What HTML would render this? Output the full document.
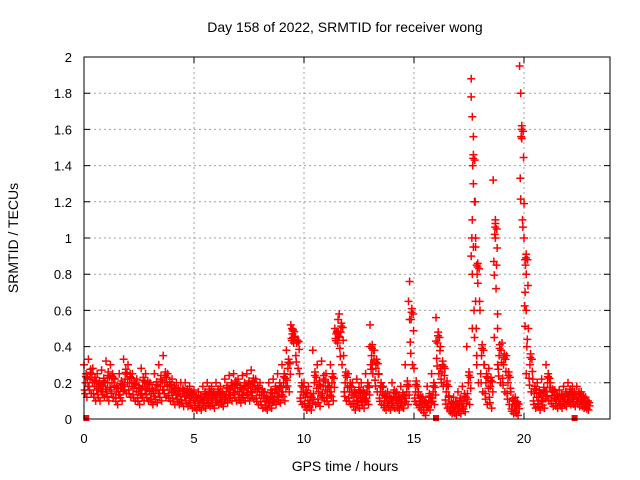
<!DOCTYPE html>
<html><head><meta charset="utf-8"><style>
body{margin:0;background:#fff}
svg{display:block;font-family:"Liberation Sans",sans-serif}
</style></head><body>
<svg id="c" width="640" height="480">
<text x="345" y="32" font-size="14" text-anchor="middle">Day 158 of 2022, SRMTID for receiver wong</text>
<text x="0" y="0" font-size="14" text-anchor="middle" transform="translate(18,238) rotate(-90)">SRMTID / TECUs</text>
<text x="345" y="471" font-size="14" text-anchor="middle">GPS time / hours</text>
<g id="grid"></g><g id="marks"></g>
<rect x="84" y="57" width="526" height="362" fill="none" stroke="#000" stroke-width="1"/>
</svg>
<script>
const xTicks=[0,5,10,15,20];
const yTicks=[0,0.2,0.4,0.6,0.8,1,1.2,1.4,1.6,1.8,2];
const yTickLabels=["0","0.2","0.4","0.6","0.8","1","1.2","1.4","1.6","1.8","2"];
const hiVals=[0.3,0.33,0.28,0.25,0.27,0.32,0.3,0.22,0.25,0.33,0.3,0.25,0.22,0.28,0.25,0.2,0.25,0.3,0.35,0.25,0.22,0.2,0.2,0.2,0.18,0.16,0.15,0.18,0.2,0.18,0.2,0.18,0.22,0.24,0.25,0.22,0.24,0.25,0.27,0.22,0.2,0.15,0.2,0.22,0.25,0.3,0.38,0.52,0.45,0.25,0.2,0.18,0.38,0.3,0.32,0.25,0.3,0.5,0.58,0.35,0.25,0.2,0.22,0.2,0.25,0.52,0.38,0.25,0.18,0.15,0.2,0.15,0.18,0.3,0.76,0.28,0.15,0.12,0.18,0.25,0.56,0.4,0.28,0.12,0.12,0.15,0.18,0.4,1.88,1.0,0.6,0.3,0.28,1.32,0.5,0.42,0.35,0.15,0.12,1.95,1.19,0.5,0.22,0.2,0.22,0.3,0.2,0.16,0.16,0.18,0.2,0.18,0.18,0.15,0.12];
const midVals=[0.2,0.22,0.18,0.17,0.18,0.2,0.2,0.15,0.17,0.22,0.2,0.17,0.15,0.18,0.17,0.14,0.16,0.18,0.2,0.16,0.15,0.14,0.14,0.13,0.12,0.1,0.1,0.12,0.13,0.12,0.13,0.12,0.15,0.16,0.17,0.15,0.16,0.17,0.18,0.15,0.13,0.1,0.12,0.14,0.15,0.2,0.28,0.47,0.42,0.15,0.12,0.1,0.2,0.15,0.18,0.15,0.2,0.47,0.48,0.2,0.15,0.12,0.13,0.12,0.15,0.35,0.28,0.15,0.1,0.1,0.12,0.1,0.11,0.15,0.55,0.15,0.1,0.08,0.1,0.15,0.42,0.26,0.15,0.07,0.07,0.08,0.1,0.2,1.4,0.8,0.35,0.2,0.18,1.02,0.35,0.3,0.2,0.08,0.07,1.56,0.85,0.3,0.14,0.12,0.13,0.2,0.13,0.11,0.11,0.12,0.13,0.12,0.12,0.1,0.08];
const loVals=[0.12,0.14,0.1,0.1,0.12,0.1,0.12,0.08,0.1,0.14,0.12,0.1,0.08,0.1,0.1,0.08,0.09,0.1,0.12,0.1,0.08,0.08,0.07,0.07,0.06,0.05,0.05,0.06,0.07,0.06,0.08,0.07,0.09,0.1,0.1,0.09,0.1,0.1,0.11,0.08,0.06,0.05,0.06,0.08,0.09,0.1,0.15,0.42,0.28,0.08,0.05,0.05,0.08,0.07,0.1,0.08,0.1,0.42,0.3,0.1,0.08,0.05,0.06,0.06,0.08,0.25,0.15,0.08,0.05,0.05,0.06,0.05,0.06,0.08,0.3,0.08,0.05,0.02,0.05,0.08,0.25,0.18,0.06,0.03,0.02,0.03,0.04,0.08,0.6,0.2,0.15,0.08,0.06,0.72,0.2,0.15,0.08,0.03,0.02,1.1,0.4,0.15,0.06,0.05,0.06,0.1,0.07,0.06,0.06,0.07,0.08,0.07,0.07,0.06,0.05];
const extraT=[17.6,17.65,17.7,17.7,17.75,17.65,17.6,17.7,17.65,17.75,17.8,17.85,17.8,17.9,17.85,18.7,18.7,18.75,18.8,18.65,18.8,19.85,19.9,19.95,20.0,20.05,20.1,20.05,20.1,20.15,20.1,9.45,9.5,11.55,11.6,13.0,13.1,14.75,14.8,16.0,16.2];
const extraV=[1.78,1.67,1.56,1.3,1.2,1.1,0.9,0.95,0.5,0.45,0.65,0.85,0.95,0.75,0.3,1.1,1.0,0.85,0.58,0.45,0.3,1.8,1.55,1.06,1.0,0.88,0.8,0.7,0.6,0.44,0.25,0.5,0.45,0.55,0.45,0.4,0.3,0.65,0.55,0.43,0.28];
const zeroT=[0.1,16.0,22.3];
const X=h=>84+h*22, Y=v=>419-v*181;
const ns="http://www.w3.org/2000/svg";
const svg=document.getElementById('c'),grid=document.getElementById('grid'),marks=document.getElementById('marks');
function mk(t,a,p){const e=document.createElementNS(ns,t);for(const k in a)e.setAttribute(k,a[k]);p.appendChild(e);return e;}
yTicks.forEach((v,i)=>{
 if(i>0&&i<yTicks.length-1){const g=mk('line',{x1:84,x2:610,y1:Y(v),y2:Y(v),stroke:'#a0a0a0','stroke-dasharray':'2,3'},grid);
 
 }
 const tk=mk('path',{d:`M84 ${Y(v)}h6M610 ${Y(v)}h-6`,stroke:'#000'},grid);
 
 
 const t=mk('text',{x:72,y:Y(v)+5,'font-size':13,'text-anchor':'end'},svg);t.textContent=yTickLabels[i];
 
 
});
xTicks.forEach(h=>{
 if(h>0){const g=mk('line',{x1:X(h),x2:X(h),y1:57,y2:419,stroke:'#a0a0a0','stroke-dasharray':'2,3'},grid);
 
 }
 const tk=mk('path',{d:`M${X(h)} 419v-6M${X(h)} 57v6`,stroke:'#000'},grid);
 
 
 const t=mk('text',{x:X(h),y:443,'font-size':13,'text-anchor':'middle'},svg);t.textContent=h;
 
 
});
function cross(h,v){const p=mk('path',{d:`M${X(h)-4} ${Y(v)}h8M${X(h)} ${Y(v)-4}v8`,stroke:'#f00','stroke-width':1.5},marks);
 
 }
hiVals.forEach((v,i)=>{const h=i*0.2,m=midVals[i],l=loVals[i];
 const top=Math.min(v,m+0.12);
 cross(h,v);cross(h+0.07,m);cross(h+0.13,l);
 cross(h+0.1,(top+m)/2);cross(h+0.03,(m+l)/2);
 cross(h+0.16,(3*m+top)/4);cross(h+0.05,(3*l+m)/4);cross(h+0.18,(l+3*m)/4);cross(h+0.09,(2*m+top)/3);
});
extraT.forEach((h,i)=>cross(h,extraV[i]));
zeroT.forEach(h=>{const r=mk('rect',{x:X(h)-3,y:415,width:6,height:6,fill:'#f00'},marks);
 
 });
</script>
</body></html>
